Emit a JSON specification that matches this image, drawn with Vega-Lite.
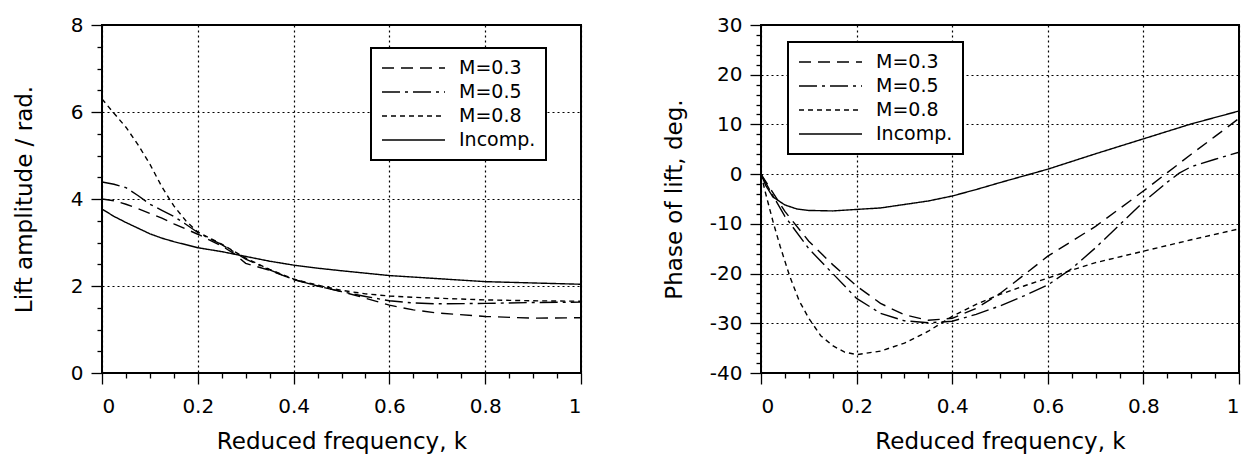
{
  "$schema": "https://vega.github.io/schema/vega-lite/v6.json",
  "padding": {"left": 12, "top": 14, "right": 0, "bottom": 0},
  "background": "white",
  "spacing": 79,
  "datasets": {
    "amp": [
      {"series": "Incomp.", "k": 0, "value": 3.77}, {"series": "Incomp.", "k": 0.025, "value": 3.6}, {"series": "Incomp.", "k": 0.05, "value": 3.46}, {"series": "Incomp.", "k": 0.075, "value": 3.33}, {"series": "Incomp.", "k": 0.1, "value": 3.2}, {"series": "Incomp.", "k": 0.125, "value": 3.1}, {"series": "Incomp.", "k": 0.15, "value": 3.02}, {"series": "Incomp.", "k": 0.2, "value": 2.88}, {"series": "Incomp.", "k": 0.25, "value": 2.79}, {"series": "Incomp.", "k": 0.3, "value": 2.68}, {"series": "Incomp.", "k": 0.35, "value": 2.57}, {"series": "Incomp.", "k": 0.4, "value": 2.48}, {"series": "Incomp.", "k": 0.45, "value": 2.41}, {"series": "Incomp.", "k": 0.5, "value": 2.35}, {"series": "Incomp.", "k": 0.6, "value": 2.24}, {"series": "Incomp.", "k": 0.7, "value": 2.17}, {"series": "Incomp.", "k": 0.8, "value": 2.1}, {"series": "Incomp.", "k": 0.9, "value": 2.07}, {"series": "Incomp.", "k": 1.0, "value": 2.04},
      {"series": "M=0.3", "k": 0, "value": 4.0}, {"series": "M=0.3", "k": 0.025, "value": 3.96}, {"series": "M=0.3", "k": 0.05, "value": 3.88}, {"series": "M=0.3", "k": 0.075, "value": 3.78}, {"series": "M=0.3", "k": 0.1, "value": 3.67}, {"series": "M=0.3", "k": 0.125, "value": 3.56}, {"series": "M=0.3", "k": 0.15, "value": 3.43}, {"series": "M=0.3", "k": 0.175, "value": 3.31}, {"series": "M=0.3", "k": 0.2, "value": 3.19}, {"series": "M=0.3", "k": 0.25, "value": 2.92}, {"series": "M=0.3", "k": 0.275, "value": 2.75}, {"series": "M=0.3", "k": 0.3, "value": 2.52}, {"series": "M=0.3", "k": 0.35, "value": 2.36}, {"series": "M=0.3", "k": 0.4, "value": 2.15}, {"series": "M=0.3", "k": 0.45, "value": 2.0}, {"series": "M=0.3", "k": 0.5, "value": 1.87}, {"series": "M=0.3", "k": 0.55, "value": 1.72}, {"series": "M=0.3", "k": 0.6, "value": 1.56}, {"series": "M=0.3", "k": 0.65, "value": 1.45}, {"series": "M=0.3", "k": 0.7, "value": 1.38}, {"series": "M=0.3", "k": 0.8, "value": 1.3}, {"series": "M=0.3", "k": 0.9, "value": 1.26}, {"series": "M=0.3", "k": 1.0, "value": 1.27},
      {"series": "M=0.5", "k": 0, "value": 4.39}, {"series": "M=0.5", "k": 0.025, "value": 4.34}, {"series": "M=0.5", "k": 0.05, "value": 4.26}, {"series": "M=0.5", "k": 0.075, "value": 4.08}, {"series": "M=0.5", "k": 0.1, "value": 3.88}, {"series": "M=0.5", "k": 0.125, "value": 3.74}, {"series": "M=0.5", "k": 0.15, "value": 3.6}, {"series": "M=0.5", "k": 0.175, "value": 3.42}, {"series": "M=0.5", "k": 0.2, "value": 3.23}, {"series": "M=0.5", "k": 0.25, "value": 2.95}, {"series": "M=0.5", "k": 0.3, "value": 2.62}, {"series": "M=0.5", "k": 0.35, "value": 2.37}, {"series": "M=0.5", "k": 0.4, "value": 2.15}, {"series": "M=0.5", "k": 0.45, "value": 2.0}, {"series": "M=0.5", "k": 0.5, "value": 1.87}, {"series": "M=0.5", "k": 0.55, "value": 1.76}, {"series": "M=0.5", "k": 0.6, "value": 1.66}, {"series": "M=0.5", "k": 0.65, "value": 1.61}, {"series": "M=0.5", "k": 0.7, "value": 1.59}, {"series": "M=0.5", "k": 0.8, "value": 1.6}, {"series": "M=0.5", "k": 0.9, "value": 1.62}, {"series": "M=0.5", "k": 1.0, "value": 1.63},
      {"series": "M=0.8", "k": 0, "value": 6.3}, {"series": "M=0.8", "k": 0.025, "value": 5.97}, {"series": "M=0.8", "k": 0.05, "value": 5.65}, {"series": "M=0.8", "k": 0.075, "value": 5.25}, {"series": "M=0.8", "k": 0.1, "value": 4.8}, {"series": "M=0.8", "k": 0.125, "value": 4.28}, {"series": "M=0.8", "k": 0.15, "value": 3.84}, {"series": "M=0.8", "k": 0.175, "value": 3.5}, {"series": "M=0.8", "k": 0.2, "value": 3.24}, {"series": "M=0.8", "k": 0.25, "value": 2.96}, {"series": "M=0.8", "k": 0.3, "value": 2.64}, {"series": "M=0.8", "k": 0.35, "value": 2.38}, {"series": "M=0.8", "k": 0.4, "value": 2.16}, {"series": "M=0.8", "k": 0.45, "value": 2.02}, {"series": "M=0.8", "k": 0.5, "value": 1.9}, {"series": "M=0.8", "k": 0.55, "value": 1.82}, {"series": "M=0.8", "k": 0.6, "value": 1.77}, {"series": "M=0.8", "k": 0.65, "value": 1.74}, {"series": "M=0.8", "k": 0.7, "value": 1.72}, {"series": "M=0.8", "k": 0.8, "value": 1.68}, {"series": "M=0.8", "k": 0.9, "value": 1.66}, {"series": "M=0.8", "k": 1.0, "value": 1.65}
    ],
    "phase": [
      {"series": "Incomp.", "k": 0, "value": 0}, {"series": "Incomp.", "k": 0.01, "value": -2.3}, {"series": "Incomp.", "k": 0.025, "value": -4.6}, {"series": "Incomp.", "k": 0.05, "value": -6.2}, {"series": "Incomp.", "k": 0.075, "value": -7.0}, {"series": "Incomp.", "k": 0.1, "value": -7.3}, {"series": "Incomp.", "k": 0.15, "value": -7.4}, {"series": "Incomp.", "k": 0.2, "value": -7.1}, {"series": "Incomp.", "k": 0.25, "value": -6.8}, {"series": "Incomp.", "k": 0.3, "value": -6.1}, {"series": "Incomp.", "k": 0.35, "value": -5.4}, {"series": "Incomp.", "k": 0.4, "value": -4.4}, {"series": "Incomp.", "k": 0.45, "value": -3.1}, {"series": "Incomp.", "k": 0.5, "value": -1.7}, {"series": "Incomp.", "k": 0.6, "value": 1.0}, {"series": "Incomp.", "k": 0.7, "value": 4.1}, {"series": "Incomp.", "k": 0.8, "value": 7.1}, {"series": "Incomp.", "k": 0.9, "value": 10.1}, {"series": "Incomp.", "k": 1.0, "value": 12.7},
      {"series": "M=0.3", "k": 0, "value": 0}, {"series": "M=0.3", "k": 0.02, "value": -3}, {"series": "M=0.3", "k": 0.05, "value": -7.5}, {"series": "M=0.3", "k": 0.1, "value": -13.5}, {"series": "M=0.3", "k": 0.15, "value": -18.2}, {"series": "M=0.3", "k": 0.2, "value": -22.5}, {"series": "M=0.3", "k": 0.25, "value": -26}, {"series": "M=0.3", "k": 0.3, "value": -28.3}, {"series": "M=0.3", "k": 0.35, "value": -29.4}, {"series": "M=0.3", "k": 0.4, "value": -29.0}, {"series": "M=0.3", "k": 0.45, "value": -27}, {"series": "M=0.3", "k": 0.5, "value": -24}, {"series": "M=0.3", "k": 0.55, "value": -20.3}, {"series": "M=0.3", "k": 0.6, "value": -16.5}, {"series": "M=0.3", "k": 0.7, "value": -10.5}, {"series": "M=0.3", "k": 0.8, "value": -3.4}, {"series": "M=0.3", "k": 0.85, "value": 0.3}, {"series": "M=0.3", "k": 0.9, "value": 4.0}, {"series": "M=0.3", "k": 0.95, "value": 7.6}, {"series": "M=0.3", "k": 1.0, "value": 11.2},
      {"series": "M=0.5", "k": 0, "value": 0}, {"series": "M=0.5", "k": 0.02, "value": -3.5}, {"series": "M=0.5", "k": 0.05, "value": -8.5}, {"series": "M=0.5", "k": 0.1, "value": -15}, {"series": "M=0.5", "k": 0.15, "value": -20}, {"series": "M=0.5", "k": 0.2, "value": -25}, {"series": "M=0.5", "k": 0.25, "value": -28}, {"series": "M=0.5", "k": 0.3, "value": -29.5}, {"series": "M=0.5", "k": 0.35, "value": -29.9}, {"series": "M=0.5", "k": 0.4, "value": -29.6}, {"series": "M=0.5", "k": 0.45, "value": -28.2}, {"series": "M=0.5", "k": 0.5, "value": -26.5}, {"series": "M=0.5", "k": 0.55, "value": -24.5}, {"series": "M=0.5", "k": 0.6, "value": -22.3}, {"series": "M=0.5", "k": 0.65, "value": -19.0}, {"series": "M=0.5", "k": 0.7, "value": -14.8}, {"series": "M=0.5", "k": 0.75, "value": -10.2}, {"series": "M=0.5", "k": 0.8, "value": -5.6}, {"series": "M=0.5", "k": 0.85, "value": -1.6}, {"series": "M=0.5", "k": 0.875, "value": 0.2}, {"series": "M=0.5", "k": 0.9, "value": 1.5}, {"series": "M=0.5", "k": 0.95, "value": 3.0}, {"series": "M=0.5", "k": 1.0, "value": 4.4},
      {"series": "M=0.8", "k": 0, "value": 0}, {"series": "M=0.8", "k": 0.01, "value": -4}, {"series": "M=0.8", "k": 0.025, "value": -9.5}, {"series": "M=0.8", "k": 0.04, "value": -14.5}, {"series": "M=0.8", "k": 0.06, "value": -20.5}, {"series": "M=0.8", "k": 0.08, "value": -25.5}, {"series": "M=0.8", "k": 0.1, "value": -29}, {"series": "M=0.8", "k": 0.125, "value": -32.5}, {"series": "M=0.8", "k": 0.15, "value": -34.5}, {"series": "M=0.8", "k": 0.175, "value": -35.8}, {"series": "M=0.8", "k": 0.2, "value": -36.3}, {"series": "M=0.8", "k": 0.25, "value": -35.6}, {"series": "M=0.8", "k": 0.3, "value": -34}, {"series": "M=0.8", "k": 0.35, "value": -31.6}, {"series": "M=0.8", "k": 0.4, "value": -28.6}, {"series": "M=0.8", "k": 0.45, "value": -26.2}, {"series": "M=0.8", "k": 0.5, "value": -24.2}, {"series": "M=0.8", "k": 0.55, "value": -22.5}, {"series": "M=0.8", "k": 0.6, "value": -20.9}, {"series": "M=0.8", "k": 0.65, "value": -19.3}, {"series": "M=0.8", "k": 0.7, "value": -17.8}, {"series": "M=0.8", "k": 0.8, "value": -15.5}, {"series": "M=0.8", "k": 0.9, "value": -13.2}, {"series": "M=0.8", "k": 1.0, "value": -11.0}
    ]
  },
  "config": {
    "font": "DejaVu Sans",
    "view": {"stroke": "black", "strokeWidth": 2},
    "axis": {
      "labelFont": "DejaVu Sans", "labelFontSize": 20, "labelColor": "black",
      "titleFont": "DejaVu Sans", "titleFontSize": 23, "titleFontWeight": "normal", "titleColor": "black",
      "domain": false, "tickColor": "black", "tickWidth": 1.3, "tickSize": 11,
      "labelPadding": 8,
      "gridColor": "black", "gridOpacity": 1, "gridDash": [2, 3], "gridWidth": 1.2
    },
    "axisX": {"labelPadding": 12, "titlePadding": 14},
    "legend": {
      "orient": "none", "fillColor": "white", "strokeColor": "black", "strokeWidth": 2,
      "padding": 10, "labelFont": "DejaVu Sans", "labelFontSize": 19, "labelColor": "black",
      "symbolType": "stroke", "symbolSize": 3969, "symbolStrokeWidth": 1.4, "symbolStrokeColor": "black",
      "labelOffset": 13, "rowPadding": 4, "clipHeight": 20
    }
  },
  "hconcat": [
    {
      "width": 479, "height": 348,
      "data": {"name": "amp"},
      "resolve": {"axis": {"x": "independent", "y": "independent"}},
      "layer": [
        {
          "mark": {"type": "line", "color": "black", "strokeWidth": 1.4, "clip": true},
          "encoding": {
            "x": {"field": "k", "type": "quantitative", "scale": {"domain": [0, 1], "nice": false},
                  "axis": {"orient": "bottom", "values": [0, 0.2, 0.4, 0.6, 0.8, 1], "labelExpr": "'' + datum.value", "title": "Reduced frequency, k", "grid": true}},
            "y": {"field": "value", "type": "quantitative", "scale": {"domain": [0, 8], "nice": false},
                  "axis": {"orient": "left", "values": [0, 2, 4, 6, 8], "labelExpr": "'' + datum.value", "title": "Lift amplitude / rad.", "titlePadding": 34, "grid": true}},
            "strokeDash": {"field": "series", "type": "nominal",
                  "scale": {"domain": ["M=0.3", "M=0.5", "M=0.8", "Incomp."], "range": [[12, 7], [18, 5, 3, 5], [5, 4], [1, 0]]},
                  "legend": {"title": null, "legendX": 269, "legendY": 23}}
          }
        },
        {
          "mark": {"type": "line", "opacity": 0},
          "encoding": {
            "x": {"field": "k", "type": "quantitative",
                  "axis": {"orient": "bottom", "values": [0.05, 0.1, 0.15, 0.25, 0.3, 0.35, 0.45, 0.5, 0.55, 0.65, 0.7, 0.75, 0.85, 0.9, 0.95], "labels": false, "title": null, "grid": false, "tickSize": 5}},
            "y": {"field": "value", "type": "quantitative",
                  "axis": {"orient": "left", "values": [0.5, 1, 1.5, 2.5, 3, 3.5, 4.5, 5, 5.5, 6.5, 7, 7.5], "labels": false, "title": null, "grid": false, "tickSize": 5}},
            "detail": {"field": "series"}
          }
        }
      ]
    },
    {
      "width": 478, "height": 348,
      "data": {"name": "phase"},
      "resolve": {"axis": {"x": "independent", "y": "independent"}},
      "layer": [
        {
          "mark": {"type": "line", "color": "black", "strokeWidth": 1.4, "clip": true},
          "encoding": {
            "x": {"field": "k", "type": "quantitative", "scale": {"domain": [0, 1], "nice": false},
                  "axis": {"orient": "bottom", "values": [0, 0.2, 0.4, 0.6, 0.8, 1], "labelExpr": "'' + datum.value", "title": "Reduced frequency, k", "grid": true}},
            "y": {"field": "value", "type": "quantitative", "scale": {"domain": [-40, 30], "nice": false},
                  "axis": {"orient": "left", "values": [-40, -30, -20, -10, 0, 10, 20, 30], "labelExpr": "'' + datum.value", "title": "Phase of lift, deg.", "titlePadding": 23, "grid": true}},
            "strokeDash": {"field": "series", "type": "nominal",
                  "scale": {"domain": ["M=0.3", "M=0.5", "M=0.8", "Incomp."], "range": [[12, 7], [18, 5, 3, 5], [5, 4], [1, 0]]},
                  "legend": {"title": null, "legendX": 27, "legendY": 17}}
          }
        },
        {
          "mark": {"type": "line", "opacity": 0},
          "encoding": {
            "x": {"field": "k", "type": "quantitative",
                  "axis": {"orient": "bottom", "values": [0.05, 0.1, 0.15, 0.25, 0.3, 0.35, 0.45, 0.5, 0.55, 0.65, 0.7, 0.75, 0.85, 0.9, 0.95], "labels": false, "title": null, "grid": false, "tickSize": 5}},
            "y": {"field": "value", "type": "quantitative",
                  "axis": {"orient": "left", "values": [-38, -36, -34, -32, -28, -26, -24, -22, -18, -16, -14, -12, -8, -6, -4, -2, 2, 4, 6, 8, 12, 14, 16, 18, 22, 24, 26, 28], "labels": false, "title": null, "grid": false, "tickSize": 5}},
            "detail": {"field": "series"}
          }
        }
      ]
    }
  ],
  "resolve": {"legend": {"strokeDash": "independent"}}
}
